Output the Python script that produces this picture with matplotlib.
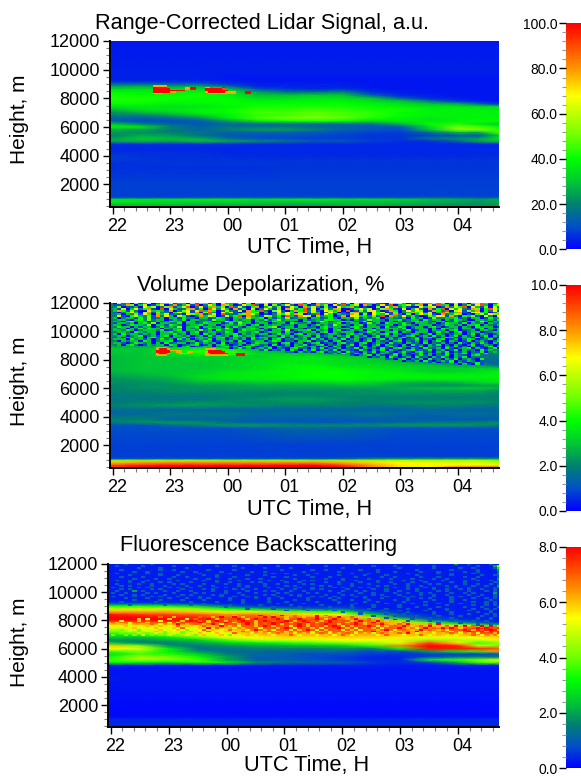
import numpy as np
import matplotlib
matplotlib.use("Agg")
import matplotlib.pyplot as plt
from matplotlib.colors import LinearSegmentedColormap
from matplotlib.ticker import MultipleLocator
from matplotlib.transforms import ScaledTranslation

plt.rcParams["font.family"] = ["Liberation Sans", "DejaVu Sans"]

# hours after 22 UTC
time_hours = [-0.05, 0.5, 1.0, 1.5, 2.0, 2.5, 3.0, 3.5, 4.0, 4.5, 5.0, 5.5, 6.0, 6.35, 6.71]
time_labels = ["22", "23", "00", "01", "02", "03", "04"]

heights = [12000, 10000, 9400, 9200, 9000, 8800, 8600, 8400, 8200, 8000, 7800, 7600, 7400, 7200,
           7000, 6800, 6600, 6400, 6200, 6000, 5800, 5600, 5400, 5200, 5000, 4800, 4500, 4200,
           3800, 3600, 3400, 3200, 2000, 1200, 1050, 950, 800, 600, 440]

# range corrected signal, a.u.
signal = [
    [3, 3, 3, 3, 3, 3, 3, 3, 3, 3, 3, 3, 3, 3, 3],
    [4, 4, 4, 4, 4, 4, 4, 4, 4, 4, 4, 4, 4, 4, 4],
    [4, 4, 4, 4, 3, 3, 3, 3, 3, 3, 3, 3, 3, 3, 3],
    [5, 5, 5, 5, 4, 3, 3, 3, 3, 3, 3, 3, 3, 3, 3],
    [14, 14, 12, 12, 6, 4, 4, 4, 4, 3, 3, 3, 3, 3, 3],
    [26, 28, 26, 28, 18, 5, 5, 4, 4, 3, 3, 3, 3, 3, 3],
    [34, 35, 35, 35, 32, 14, 8, 6, 8, 4, 3, 3, 3, 3, 3],
    [40, 38, 38, 38, 36, 26, 20, 20, 22, 6, 4, 3, 3, 3, 3],
    [42, 40, 40, 42, 38, 30, 30, 32, 30, 14, 5, 4, 3, 3, 3],
    [42, 42, 42, 40, 40, 34, 34, 36, 35, 30, 14, 5, 4, 3, 3],
    [42, 42, 40, 40, 40, 38, 38, 38, 38, 34, 30, 18, 6, 4, 3],
    [40, 40, 38, 38, 40, 40, 40, 40, 40, 38, 35, 30, 26, 16, 6],
    [34, 36, 34, 36, 38, 42, 42, 42, 42, 40, 38, 36, 36, 34, 34],
    [28, 34, 36, 38, 40, 44, 44, 46, 44, 42, 42, 38, 38, 38, 36],
    [22, 28, 32, 38, 40, 46, 46, 48, 46, 44, 40, 38, 38, 38, 38],
    [20, 18, 24, 30, 38, 44, 46, 50, 48, 44, 40, 38, 38, 38, 38],
    [14, 14, 16, 22, 36, 46, 50, 50, 48, 42, 38, 36, 38, 38, 38],
    [14, 10, 10, 12, 24, 36, 40, 42, 40, 34, 36, 36, 38, 40, 40],
    [30, 20, 14, 12, 14, 14, 16, 16, 14, 16, 28, 40, 42, 36, 30],
    [38, 36, 20, 14, 18, 18, 18, 16, 14, 12, 12, 34, 50, 46, 40],
    [26, 24, 18, 14, 20, 24, 24, 20, 14, 12, 10, 30, 52, 52, 44],
    [24, 22, 20, 18, 14, 14, 14, 12, 10, 8, 8, 16, 28, 26, 46],
    [20, 26, 24, 16, 12, 10, 10, 9, 8, 7, 7, 8, 10, 10, 30],
    [24, 30, 28, 26, 16, 10, 9, 8, 8, 7, 7, 18, 22, 24, 34],
    [26, 28, 26, 30, 26, 22, 18, 12, 12, 8, 6, 6, 14, 26, 32],
    [6, 6, 6, 6, 6, 5, 5, 5, 5, 5, 5, 5, 5, 5, 5],
    [5, 5, 5, 5, 5, 5, 5, 5, 5, 5, 5, 5, 5, 5, 5],
    [6, 6, 6, 6, 5, 5, 5, 5, 5, 5, 5, 5, 5, 5, 5],
    [8, 7, 6, 6, 6, 6, 6, 6, 6, 6, 6, 6, 6, 6, 6],
    [7, 7, 7, 7, 7, 7, 7, 7, 7, 7, 7, 7, 7, 7, 7],
    [6, 6, 7, 7, 7, 7, 7, 7, 7, 7, 7, 7, 7, 7, 7],
    [6, 6, 6, 6, 6, 6, 7, 7, 7, 7, 7, 7, 7, 7, 7],
    [8, 8, 8, 8, 8, 8, 8, 8, 8, 8, 8, 8, 8, 8, 8],
    [8, 8, 8, 8, 8, 8, 8, 8, 8, 8, 8, 8, 8, 8, 8],
    [10, 10, 10, 11, 12, 12, 12, 12, 12, 12, 12, 14, 14, 12, 12],
    [34, 34, 35, 36, 36, 34, 36, 36, 34, 34, 32, 28, 26, 24, 26],
    [38, 36, 34, 34, 34, 32, 32, 32, 30, 30, 30, 28, 26, 24, 26],
    [30, 30, 30, 28, 28, 28, 26, 26, 28, 28, 26, 24, 22, 22, 24],
    [26, 26, 24, 24, 24, 24, 24, 24, 24, 24, 24, 22, 22, 22, 22],
]

# volume depolarization, tenths of %
depol_tenths = [
    [20, 20, 20, 20, 20, 20, 20, 20, 20, 20, 20, 20, 20, 20, 20],
    [20, 20, 20, 20, 20, 20, 20, 20, 20, 20, 20, 20, 20, 20, 20],
    [20, 20, 20, 20, 20, 20, 20, 20, 20, 20, 20, 20, 20, 20, 20],
    [20, 20, 20, 20, 20, 20, 20, 20, 20, 20, 20, 20, 20, 20, 20],
    [24, 24, 26, 26, 22, 20, 20, 20, 20, 20, 20, 20, 20, 20, 20],
    [30, 30, 34, 36, 36, 24, 22, 20, 20, 20, 20, 20, 20, 20, 20],
    [30, 30, 36, 44, 44, 30, 26, 24, 20, 20, 20, 20, 20, 20, 20],
    [30, 30, 34, 40, 44, 34, 32, 30, 26, 20, 18, 18, 18, 18, 18],
    [28, 30, 32, 32, 32, 32, 36, 36, 32, 28, 18, 18, 18, 18, 18],
    [28, 30, 30, 32, 32, 34, 36, 36, 34, 32, 26, 16, 16, 16, 16],
    [28, 30, 30, 30, 32, 34, 36, 36, 34, 32, 30, 22, 18, 16, 14],
    [28, 30, 30, 30, 32, 34, 38, 38, 34, 34, 32, 30, 26, 24, 16],
    [28, 30, 30, 30, 32, 34, 38, 40, 38, 36, 34, 32, 32, 32, 30],
    [28, 30, 30, 32, 34, 36, 38, 40, 40, 38, 36, 32, 32, 34, 36],
    [26, 28, 30, 32, 36, 38, 38, 40, 40, 38, 38, 36, 36, 36, 38],
    [24, 26, 28, 34, 36, 36, 38, 40, 40, 38, 38, 38, 38, 38, 38],
    [22, 24, 26, 32, 36, 36, 38, 38, 40, 38, 36, 36, 36, 36, 36],
    [22, 22, 24, 28, 28, 30, 30, 32, 34, 32, 28, 26, 28, 32, 36],
    [20, 22, 22, 24, 24, 26, 26, 26, 28, 28, 24, 22, 22, 24, 24],
    [20, 22, 22, 22, 24, 24, 24, 24, 24, 24, 26, 28, 30, 30, 28],
    [20, 20, 22, 22, 22, 22, 22, 22, 22, 22, 24, 24, 24, 24, 22],
    [18, 20, 20, 20, 20, 20, 20, 20, 22, 22, 22, 22, 22, 22, 20],
    [18, 18, 18, 18, 20, 20, 22, 22, 20, 20, 20, 20, 20, 20, 20],
    [18, 18, 18, 18, 20, 22, 24, 24, 22, 20, 20, 20, 20, 20, 20],
    [18, 20, 20, 22, 22, 20, 22, 22, 20, 20, 22, 22, 22, 22, 20],
    [20, 22, 24, 24, 22, 22, 20, 20, 20, 18, 18, 20, 20, 18, 18],
    [16, 16, 14, 14, 14, 14, 14, 14, 14, 14, 14, 16, 14, 14, 14],
    [14, 16, 18, 18, 18, 16, 16, 16, 16, 18, 16, 14, 16, 16, 16],
    [20, 20, 14, 14, 14, 12, 12, 12, 12, 12, 12, 12, 12, 12, 12],
    [18, 22, 24, 22, 16, 14, 14, 12, 12, 14, 16, 18, 18, 20, 22],
    [10, 10, 14, 20, 24, 24, 22, 22, 22, 22, 24, 24, 24, 22, 20],
    [10, 10, 10, 10, 10, 12, 14, 14, 14, 12, 10, 10, 10, 10, 10],
    [8, 8, 8, 8, 8, 8, 8, 8, 8, 8, 8, 8, 8, 8, 8],
    [8, 8, 8, 8, 8, 8, 8, 8, 8, 8, 8, 8, 8, 8, 8],
    [10, 12, 12, 12, 12, 12, 12, 12, 14, 22, 24, 24, 24, 24, 22],
    [50, 52, 54, 54, 52, 52, 54, 52, 54, 54, 56, 56, 56, 56, 50],
    [74, 78, 80, 80, 80, 80, 80, 80, 76, 72, 68, 66, 64, 64, 58],
    [92, 96, 98, 98, 98, 98, 100, 100, 92, 80, 70, 68, 68, 66, 64],
    [92, 100, 100, 100, 100, 100, 100, 100, 98, 82, 72, 70, 92, 92, 92],
]

# fluorescence backscatter, tenths
fluor_tenths = [
    [3, 3, 3, 3, 3, 3, 3, 3, 3, 3, 3, 3, 3, 3, 3],
    [3, 3, 3, 3, 3, 3, 3, 3, 3, 3, 3, 3, 3, 3, 3],
    [3, 3, 3, 3, 3, 3, 3, 3, 3, 3, 3, 3, 3, 3, 3],
    [6, 6, 5, 4, 3, 3, 3, 3, 3, 3, 3, 3, 3, 3, 3],
    [32, 32, 30, 24, 12, 5, 4, 4, 4, 3, 3, 3, 3, 3, 3],
    [48, 50, 48, 42, 32, 24, 16, 10, 10, 3, 3, 3, 3, 3, 3],
    [62, 62, 62, 58, 52, 50, 40, 36, 32, 10, 4, 3, 3, 3, 3],
    [78, 74, 72, 70, 64, 66, 60, 56, 52, 26, 8, 4, 3, 3, 3],
    [80, 80, 78, 76, 70, 72, 68, 68, 64, 46, 16, 6, 4, 3, 3],
    [80, 80, 80, 78, 74, 74, 74, 74, 72, 64, 40, 14, 6, 4, 3],
    [64, 68, 70, 74, 72, 74, 74, 72, 72, 68, 58, 40, 22, 12, 5],
    [54, 56, 56, 60, 68, 72, 72, 74, 74, 72, 66, 60, 50, 44, 30],
    [46, 52, 52, 54, 60, 70, 72, 72, 72, 72, 68, 66, 72, 76, 76],
    [40, 48, 50, 52, 56, 66, 70, 70, 70, 68, 64, 62, 70, 76, 78],
    [30, 36, 46, 52, 54, 60, 62, 62, 64, 62, 60, 60, 60, 66, 72],
    [26, 24, 30, 40, 52, 54, 58, 56, 58, 58, 56, 52, 54, 54, 58],
    [16, 18, 22, 26, 38, 48, 50, 50, 54, 54, 50, 44, 46, 50, 56],
    [26, 16, 15, 20, 26, 30, 34, 38, 42, 44, 52, 72, 56, 36, 44],
    [60, 40, 18, 14, 18, 20, 22, 24, 26, 36, 66, 80, 76, 50, 40],
    [54, 50, 30, 14, 14, 16, 16, 16, 18, 16, 34, 78, 78, 76, 70],
    [36, 42, 30, 18, 12, 12, 12, 12, 12, 8, 8, 20, 32, 36, 64],
    [28, 36, 34, 26, 16, 12, 10, 8, 8, 6, 5, 6, 6, 6, 10],
    [32, 46, 40, 32, 20, 10, 10, 8, 6, 4, 4, 8, 14, 16, 14],
    [36, 44, 42, 38, 20, 10, 10, 8, 6, 4, 4, 30, 36, 40, 50],
    [32, 30, 28, 34, 30, 18, 14, 12, 10, 6, 4, 6, 22, 36, 40],
    [3, 3, 3, 3, 3, 3, 3, 3, 3, 3, 3, 3, 3, 3, 3],
    [2, 2, 2, 2, 2, 2, 2, 2, 2, 2, 2, 2, 2, 2, 2],
    [2, 2, 2, 2, 2, 2, 2, 2, 2, 2, 2, 2, 2, 2, 2],
    [3, 2, 2, 2, 2, 2, 2, 2, 2, 2, 2, 2, 2, 2, 2],
    [2, 2, 2, 2, 2, 2, 2, 2, 2, 2, 2, 2, 2, 2, 2],
    [2, 2, 2, 2, 2, 2, 2, 2, 2, 2, 2, 2, 2, 2, 2],
    [2, 2, 2, 2, 2, 2, 2, 2, 2, 2, 2, 2, 2, 2, 2],
    [1, 1, 1, 1, 1, 1, 1, 1, 1, 1, 1, 1, 1, 1, 1],
    [1, 1, 1, 1, 1, 1, 1, 1, 1, 1, 1, 1, 1, 1, 1],
    [3, 3, 3, 3, 3, 3, 3, 3, 3, 3, 3, 3, 3, 3, 3],
    [4, 4, 4, 4, 4, 4, 4, 4, 4, 4, 4, 4, 4, 4, 4],
    [4, 4, 4, 4, 4, 4, 4, 4, 4, 4, 4, 4, 4, 4, 4],
    [4, 4, 4, 4, 4, 4, 4, 4, 4, 4, 4, 4, 4, 4, 4],
    [3, 3, 3, 3, 3, 3, 3, 3, 3, 3, 3, 3, 3, 3, 3],
]

# speckle above the cloud, one digit per cell, " " = no cell drawn
# 125 m rows from 12000 down, 0.075 h columns, digit = % depolarization
depol_noise = [
    "072905136028471930625814073926150847293016582704938162507394821065730218946350271908634125",
    "112850360147028136190274085301749206051372094018350729146083027190346258071934060251793046",
    "250113074602581369027148350926104803625017408362051073482010050738241006357018264907315062",
    "316037248109063125814096273081406027315086249170362850014736025841060372081490637218504963",
    "384152006343180257169384025216084392057103849261075380901526730184027365018429067153804271",
    "102473068152204736180592073610284503016274058163027401058230746015023847160395248106734025",
    "230325174083612207548136092214586301025473860129074032186050743618205037461082375010462758",
    "271046325182730641028375016249083216524093187605234018076342519083272410053761820435106207",
    "302331425123033142203312431033253340313251233033124203325132340232130423015223341203301423",
    "233103425233013240332215331032330324135233303123244330203125332033412330423303143200332314",
    "320452330231243303302330125334230330243312003423530234331240332130302343320330142033253032",
    "133230342503322403312433302415330233023304322301332340233015230433242033323024331403230322",
    "330243325033143202334133023324303403233123033024231533203403312330243203330124323033403213",
    "243303133024232503340332303142033233450233033120342330134203330412430233034201330320433301",
    "323031424330323303230143325302334303124033320231340323304233031333240133203043230331240323",
    "332430233324013403325230423302433231033250233403230340132303423303224013303230340123033203",
    "233204323303342330340233124303323402333042013230340323330124230334032033301423034023301233",
    "304233132303324230330423023340323133024230340323013320342301323403201330240320133024032013",
    "233023402313403323023041323043233012330423023304123032403130240323013402304130240313024031",
    "130323303423013240233302340231304233023403123024013302403212340230240130341024301320403120",
    "333042313024230413023240330231304123034021323041302314023013024031301240210340130243012403",
    "203233043023340123302430132304012330243012033402130340213024031203402130302410320140231024",
    "331024323030412330241323040213302433120340230134012034120340132041203120402130204103142031",
    "230342013233043012340130342013024312040130324013402130240310240321030412031402031024013201",
    "             130340123302341303420132031203412301304203102403102410320140321031402031024031",
    "                          3024130231402103412031402130214031204103420310421304102340310240",
    "                                 31402130420314023140321042031403102341214023014031204132",
    "                                        2103120340213042103140231024103412031402130214023",
    "                                                 21304203140213204130214031204132402314",
    "                                                       102340310240310241302140321034",
    "                                                           0213042013041203142031402",
    "                                                               12034021304120314023104",
    "                                                                   0213041023140213201",
    "                                                                         1302140310241",
    "                                                                               20310412",
    "",
]

# speckle in panel 3, digit = value, same layout as depol_noise
fluor_noise = [
    "   1     1          1            1           1          1             1        2  1    1  3",
    " 1     1      1         1   1         1          1          1    1        1         1   24",
    "      1    1     1            1    1     1           1            1       1     1  1    13",
    "  1        1  1       1     1          1      1  1       1   1        1       1     1    2",
    "     1  1       1  1     1      1  1        1       1        1   1     1   1     1  1    1",
    " 1      1  1        1      1         1  1      1       1   1        1      1  1    1     2",
    "    1      1   1     1  1      1   1      1  1      1     1    1      1       1      1  11",
    "  1    1      1  1      1   1        1  1     1   1     1     1  1     1   1     1  1    1",
    "     1    1  1     1  1    1   1  1       1      1   1     1    1    1    1  1     1     2",
    " 1  1   1      1     1  1    1      1  1    1 1      1  1    1     1   1    1    1  1  1 1",
    "    1  1   1 1    1     1  1    1 1     1  1     1  1    1   1  1    1  1     1  1      11",
    " 1    1  1    1 1    1    1  1     1  1     1 1     1  1   1     1  1    1 1     1  1  1 1",
    "  1 1    1  1    1  1  1     1 1   1    1 1     1 1    1     1 1    1  1     1 1   1  1  2",
    "1     1 1    1 1  1     1 1    1    1 1    1  1    1 1   1 1     1  1   1 1    1  1     11",
    "  1 1    1 1    1    1 1    1 1  1     1  1   1 1     1     1  1    1 1   1  1  1 1  1  1",
    " 1   2 1    1  1  1    1  1    1   1 1   1  1     1  1  1 1    1  1   1    1 1    1   1 1",
    "1  1    1 1   1    1 1    1  1   1    1 1    1 1    1    1  1    1  1  1 1    1  1 1    2",
    "  1  1 1    1   1 1    1 1    1    1 1   1 1     1   1 1    1 1   1    1  1  1    1  1  1",
    "1    1   1 1   1    1    1  1  1 1    1    1  1 1  1    1 1    1   1 1    1   1 1   1   1",
    "   1    1    1   1  1 1    1     1  1  1     1    1 1     1   1     1  1 1    1    1  1 1",
    "     1     1    1    1     1  1     1     1  1     1   1   1     1  1     1   1  1     1",
    "  1       1       1     1     1     1   1      1    1     1  1     1    1     1    1  1 1",
    "        1      1     1        1       1     1       1   1      1     1     1    1     1 1",
    "    1       1     1        1      1      1      1      1    1     1     1    1     1  1 1",
    "                          1    1     1     1      1    1    1     1   1    1     1   1   1",
    "                               1     1      1    1     1   1   1    1    1   1     1  1 1",
    "                                        1    1     1    1     1   1     1    1    1    1",
    "                                                     1   1     1    1     1   1     1  1",
    "                                                         1     1   1      1   1   1   1 1",
    "                                                            1    1    1    1    1    1  1",
    "                                                               1     1   1    1     1  1",
    "                                                                 1   1     1   1    1  1",
    "                                                                    1    1    1    1  1",
    "                                                                           1    1   1  1",
    "                                                                                    1  1",
    "",
]

# speckle inside the fluorescence cloud, 125 m rows from 8400 down, 0.075 h columns
fluor_speckle = [
    "                            6 7   8  6 8  7 6  8 7  5                                      ",
    "           7  6     7  6 8  8 6 7  8 8  6 7 6  8  7 8  7 6                                 ",
    "      6 5    6   5 7  8 6 7  8 6 8  7 8 6  8 7 8 6 8  6 8  7 6                             ",
    "  5   6 7  5    6 8 7 6 8 6 7 8  6 8 7  8 6 8 7 6 8 7  6 8 7 8 6                           ",
    " 6  5 7 6  7 5 6  7 8 6 7 8 6  8 6 7 8 8 6 7 8 6  8 7 6 8 6 8 7  6 7                        ",
    "  6 5  6 7 5 6 8 6 7 6 8 5 7 6 8 6 7 8 6 7 8 6 7 8  6 7 8 6 7 8 6 7 8 6  7 8                ",
    " 5 6  5 6  6 5 7 6 5 7 6 8 6 5 7 6 8 6 7 5 8 6 7 6 8 5 6 7 8 5 6 7 8 6 7 8 6 7 8 8 7 8 8 6 7 8",
    "5  5 6  5 6 5 6 7 5 6 8 7 6 5 6 7 5 7 6 8 5 7 6 5 7 8 6 5 7 6 5 7 8 6 5 8 7 8 8 6 7 8 8 7 8 8",
    "  4 5 4  5 6 5 6 4 5 7 6 5 7 6 5 8 6 5 7 5 6 8 5 6 7 5 6 5 7 6 8 5 7 6 8 7 6 5 7 8 6 7 8 6 7",
    " 4  5 4 5 4 6 5 4 6 5 7 5 6 5 7 6 5 7 6 5 6 7 5 6 5 7 6 5 7 8 6 5 6 7 8 5 6 7 5 6 8 7 6 7 6 8",
    "  4 4 5 4 5 4 5 4 5 6 5 6 5 7 6 5 6 5 7 6 5 6 5 7 5 6 7 5 6 5 7 6 7 8 5 6 5 6 7 5 6 5 7 6 5 6",
    "4  4 4 5 4 4 5 4 5 4 6 5 6 4 5 6 5 6 5 6 7 5 6 5 6 5 7 5 6 6 5 7 6 5 6 7 5 6 5 5 6 7 5 6 5 7",
]

# hot patches near cloud top, 100 m rows from 8900 down, 0.05 h columns from 0.65 h
signal_hot = [
    " 77777                              ",
    " 99999      7799   77 8889          ",
    " 999999     7799   9999998          ",
    " 99999999999       99999999         ",
    " 99999977          79999997777   99 ",
    " 777                7777777777   99 ",
]
depol_hot = [
    "  7777                              ",
    "  79997            7777             ",
    "  999997777         99999           ",
    "  99999  77  77    7999999          ",
    "  79997   7777     77999999   999   ",
    "  7777             77777777   999   ",
]

cmap_stops = [(0.0, (0, 0, 255)), (0.1, (0, 80, 200)), (0.2, (0, 130, 110)), (0.3, (0, 200, 50)),
              (0.4, (0, 255, 0)), (0.5, (110, 255, 0)), (0.6, (190, 255, 0)), (0.68, (255, 255, 0)),
              (0.8, (255, 150, 0)), (1.0, (255, 0, 0))]
lidar_cmap = LinearSegmentedColormap.from_list(
    "lidar", [(s, tuple(c / 255 for c in col)) for s, col in cmap_stops])

W, H = 581, 776
fig = plt.figure(figsize=(W / 100, H / 100), dpi=100)


def box(left, top, right, bottom):
    return [left / W, 1 - bottom / H, (right - left) / W, (bottom - top) / H]


def digits_to_array(rows, n_cols, scale):
    out = np.full((len(rows), n_cols), np.nan)
    for i, row in enumerate(rows):
        for j, ch in enumerate(row[:n_cols]):
            if ch != " ":
                out[i, j] = int(ch) * scale
    return np.ma.masked_invalid(out)


def panel(field, overlays, vmax, cb_step, title, ax_px, cb_px, title_xy, xlabel_xy, ylabel_y):
    ax = fig.add_axes(box(*ax_px))
    mesh = ax.pcolormesh(time_hours, heights, field, cmap=lidar_cmap, vmin=0, vmax=vmax,
                         shading="gouraud", rasterized=True)
    for rows, t0, dt, h0, dh, n_cols, scale in overlays:
        t_edges = t0 + np.arange(n_cols + 1) * dt
        h_edges = h0 - np.arange(len(rows) + 1) * dh
        ax.pcolormesh(t_edges, h_edges, digits_to_array(rows, n_cols, scale), cmap=lidar_cmap,
                      vmin=0, vmax=vmax, shading="flat")
    ax.set_xlim(-0.05, 6.71)
    ax.set_ylim(440, 12000)
    ax.set_xticks(range(len(time_labels)))
    ax.set_xticklabels(time_labels)
    ax.xaxis.set_minor_locator(MultipleLocator(0.2))
    ax.yaxis.set_major_locator(MultipleLocator(2000))
    ax.yaxis.set_minor_locator(MultipleLocator(500))
    ax.tick_params(which="major", length=5, width=1, labelsize=13)
    ax.tick_params(axis="y", which="major", pad=2)
    ax.tick_params(axis="x", which="major", pad=3)
    ax.tick_params(which="minor", length=3, width=0.8, color="#777777")
    # x labels sit a little right of their ticks
    shift = ScaledTranslation(3 / 72, 0, fig.dpi_scale_trans)
    for lab in ax.get_xticklabels():
        lab.set_transform(lab.get_transform() + shift)
    for side in ["top", "right"]:
        ax.spines[side].set_visible(False)
    for side in ["left", "bottom"]:
        ax.spines[side].set_linewidth(1.4)

    fig.text(title_xy[0] / W, 1 - title_xy[1] / H, title, ha="center", va="center", fontsize=15.6)
    fig.text(xlabel_xy[0] / W, 1 - xlabel_xy[1] / H, "UTC Time, H", ha="center", va="center",
             fontsize=15.7)
    fig.text(20 / W, 1 - ylabel_y / H, "Height, m", ha="center", va="center", rotation=90,
             fontsize=15)

    cax = fig.add_axes(box(*cb_px))
    cb = fig.colorbar(mesh, cax=cax)
    cb.outline.set_visible(False)
    cax.yaxis.set_ticks_position("left")
    cb.set_ticks(np.arange(0, vmax + 0.01, cb_step))
    cb.set_ticklabels(["%.1f" % v for v in np.arange(0, vmax + 0.01, cb_step)])
    cax.yaxis.set_minor_locator(MultipleLocator(cb_step / 5))
    cax.tick_params(which="major", length=5, width=1, labelsize=10, pad=1)
    cax.tick_params(which="minor", length=3, width=0.8, color="#999999")


panel(np.array(signal, float),
      [(signal_hot, 0.65, 0.05, 8900, 100, 36, 100 / 9)],
      100, 20, "Range-Corrected Lidar Signal, a.u.",
      (109.7, 41, 498.9, 206.7), (566, 23.3, 581, 249.3), (262, 23), (309.5, 248), 119)
panel(np.array(depol_tenths, float) / 10,
      [(depol_noise, 0, 0.075, 12000, 125, 90, 1), (depol_hot, 0.65, 0.05, 8900, 100, 36, 10 / 9)],
      10, 2, "Volume Depolarization, %",
      (109.7, 302.7, 498.9, 467.7), (566, 285, 581, 511), (261, 285), (309.5, 510), 381)
panel(np.array(fluor_tenths, float) / 10,
      [(fluor_noise, 0, 0.075, 12000, 125, 90, 1), (fluor_speckle, 0, 0.075, 8400, 125, 90, 1)],
      8, 2, "Fluorescence Backscattering",
      (107.8, 563.7, 499.3, 727.3), (566, 546.7, 581, 768.3), (259, 546), (306.7, 765), 642)

fig.savefig("out.png", dpi=100)
